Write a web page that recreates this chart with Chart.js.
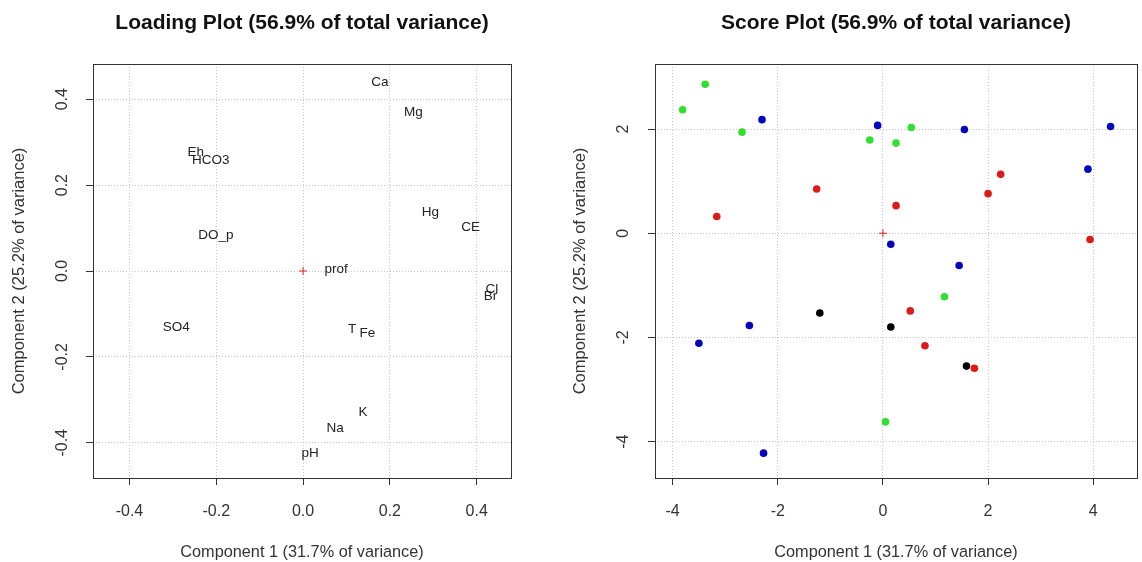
<!DOCTYPE html>
<html>
<head>
<meta charset="utf-8">
<script src="https://cdn.jsdelivr.net/npm/chart.js@4"></script>
<style>
  html, body { margin: 0; padding: 0; background: #fff; }
  .panel { position: absolute; top: 0; height: 562px; width: 571px; }
  #leftPanel { left: 0; }
  #rightPanel { left: 571px; }
</style>
</head>
<body>
<div class="panel" id="leftPanel"><canvas id="loadingChart"></canvas></div>
<div class="panel" id="rightPanel"><canvas id="scoreChart"></canvas></div>
<script>
// Loading plot: variable names and their loadings on components 1 and 2
const loadingNames = ['Ca', 'Mg', 'Eh', 'HCO3', 'Hg', 'CE', 'DO_p', 'prof', 'Cl', 'Br', 'SO4', 'T', 'Fe', 'K', 'Na', 'pH'];
const loadingX = [0.177, 0.254, -0.247, -0.213, 0.293, 0.386, -0.201, 0.076, 0.435, 0.432, -0.292, 0.113, 0.148, 0.138, 0.074, 0.016];
const loadingY = [0.440, 0.370, 0.277, 0.257, 0.136, 0.102, 0.083, 0.003, -0.042, -0.059, -0.132, -0.136, -0.145, -0.330, -0.366, -0.424];
const loadingTicksX = [-0.4, -0.2, 0.0, 0.2, 0.4];
const loadingTicksY = [-0.4, -0.2, 0.0, 0.2, 0.4];

// Score plot: observations grouped by colour
const greenX = [-3.38, -3.81, -2.68, -0.25, 0.25, 0.54, 1.17, 0.05];
const greenY = [2.86, 2.37, 1.94, 1.79, 1.73, 2.03, -1.22, -3.62];
const blueX = [-2.30, -0.10, 1.55, 4.33, 3.90, 0.15, 1.45, -2.54, -3.50, -2.27];
const blueY = [2.18, 2.07, 1.99, 2.05, 1.23, -0.21, -0.62, -1.77, -2.11, -4.22];
const redX = [-1.26, -3.16, 0.25, 2.24, 2.00, 3.94, 0.52, 0.80, 1.74];
const redY = [0.85, 0.32, 0.53, 1.13, 0.76, -0.12, -1.49, -2.16, -2.59];
const blackX = [-1.20, 0.15, 1.59];
const blackY = [-1.53, -1.80, -2.55];
const scoreTicksX = [-4, -2, 0, 2, 4];
const scoreTicksY = [-4, -2, 0, 2];

const FONT = "'Liberation Sans', Arial, sans-serif";

function pts(xs, ys) {
    return xs.map((x, i) => ({ x: x, y: ys[i] }));
}

// box around the plot region, like R's box()
const boxPlugin = {
    id: 'box',
    afterDraw(chart) {
        const a = chart.chartArea;
        const ctx = chart.ctx;
        ctx.save();
        ctx.strokeStyle = '#333';
        ctx.lineWidth = 1;
        ctx.strokeRect(a.left + 0.5, a.top + 0.5, a.right - a.left, a.bottom - a.top);
        ctx.restore();
    }
};

// variable names written at the loading positions
const labelPlugin = {
    id: 'varLabels',
    afterDatasetsDraw(chart) {
        const meta = chart.getDatasetMeta(0);
        const ctx = chart.ctx;
        ctx.save();
        ctx.font = '13.5px ' + FONT;
        ctx.fillStyle = '#222';
        ctx.textAlign = 'center';
        ctx.textBaseline = 'middle';
        meta.data.forEach((el, i) => {
            ctx.fillText(loadingNames[i], el.x, el.y);
        });
        ctx.restore();
    }
};

function axes(o) {
    const gridStyle = {
        color: '#c8c8c8',
        lineWidth: 1,
        drawTicks: true,
        tickLength: 7,
        tickColor: '#333',
        tickBorderDash: []
    };
    const border = { display: false, dash: [1, 2] };
    return {
        x: {
            type: 'linear',
            min: o.xmin,
            max: o.xmax,
            afterBuildTicks: s => { s.ticks = o.ticksX.map(v => ({ value: v })); },
            afterFit: s => { s.height = 84; },
            grid: gridStyle,
            border: border,
            ticks: {
                color: '#333',
                padding: 17,
                autoSkip: false,
                maxRotation: 0,
                font: { family: FONT, size: 16 },
                callback: v => o.fmt(v)
            },
            title: {
                display: true,
                text: 'Component 1 (31.7% of variance)',
                color: '#333',
                font: { family: FONT, size: 16.3 },
                padding: { top: 0, bottom: 0 }
            }
        },
        y: {
            type: 'linear',
            min: o.ymin,
            max: o.ymax,
            afterBuildTicks: s => { s.ticks = o.ticksY.map(v => ({ value: v })); },
            afterFit: s => { s.width = o.yWidth; },
            grid: gridStyle,
            border: border,
            ticks: {
                color: '#333',
                padding: o.tickPad,
                autoSkip: false,
                minRotation: 90,
                maxRotation: 90,
                crossAlign: 'center',
                font: { family: FONT, size: 16 },
                callback: v => o.fmt(v)
            },
            title: {
                display: true,
                text: 'Component 2 (25.2% of variance)',
                color: '#333',
                font: { family: FONT, size: 16.5 },
                padding: { top: o.titlePad, bottom: 0 }
            }
        }
    };
}

function titleOpts(text) {
    return {
        display: true,
        text: text,
        fullSize: false,
        color: '#111',
        font: { family: FONT, size: 21, weight: 'bold', lineHeight: 1.2 },
        padding: { top: 11, bottom: 27.8 }
    };
}

const origin = [{ x: 0, y: 0 }];

new Chart(document.getElementById('loadingChart'), {
    type: 'scatter',
    data: {
        datasets: [
            { label: 'loadings', data: pts(loadingX, loadingY), pointRadius: 0, pointHoverRadius: 0 },
            { label: 'origin', data: origin, pointStyle: 'cross', pointRadius: 4, borderColor: '#e02020', borderWidth: 1 }
        ]
    },
    options: {
        responsive: true,
        maintainAspectRatio: false,
        animation: false,
        events: [],
        layout: { padding: { left: 0, right: 60, top: 0, bottom: 0 } },
        plugins: { legend: { display: false }, tooltip: { enabled: false }, title: titleOpts('Loading Plot (56.9% of total variance)') },
        scales: axes({
            xmin: -0.484, xmax: 0.479, ymin: -0.482, ymax: 0.482,
            ticksX: loadingTicksX, ticksY: loadingTicksY,
            fmt: v => v.toFixed(1), yWidth: 93, tickPad: 10, titlePad: 10
        })
    },
    plugins: [boxPlugin, labelPlugin]
});

const dot = { pointRadius: 3.8, pointHoverRadius: 3.8, borderWidth: 0 };

new Chart(document.getElementById('scoreChart'), {
    type: 'scatter',
    data: {
        datasets: [
            Object.assign({ label: 'green', data: pts(greenX, greenY), backgroundColor: '#30e030' }, dot),
            Object.assign({ label: 'blue', data: pts(blueX, blueY), backgroundColor: '#0606bb' }, dot),
            Object.assign({ label: 'red', data: pts(redX, redY), backgroundColor: '#dd1a1a' }, dot),
            Object.assign({ label: 'black', data: pts(blackX, blackY), backgroundColor: '#000' }, dot),
            { label: 'origin', data: origin, pointStyle: 'cross', pointRadius: 4, borderColor: '#e02020', borderWidth: 1 }
        ]
    },
    options: {
        responsive: true,
        maintainAspectRatio: false,
        animation: false,
        events: [],
        layout: { padding: { left: 0, right: 3, top: 0, bottom: 0 } },
        plugins: { legend: { display: false }, tooltip: { enabled: false }, title: titleOpts('Score Plot (56.9% of total variance)') },
        scales: axes({
            xmin: -4.335, xmax: 4.833, ymin: -4.697, ymax: 3.248,
            ticksX: scoreTicksX, ticksY: scoreTicksY,
            fmt: v => String(v), yWidth: 84, tickPad: 17, titlePad: 0
        })
    },
    plugins: [boxPlugin]
});
</script>
</body>
</html>
